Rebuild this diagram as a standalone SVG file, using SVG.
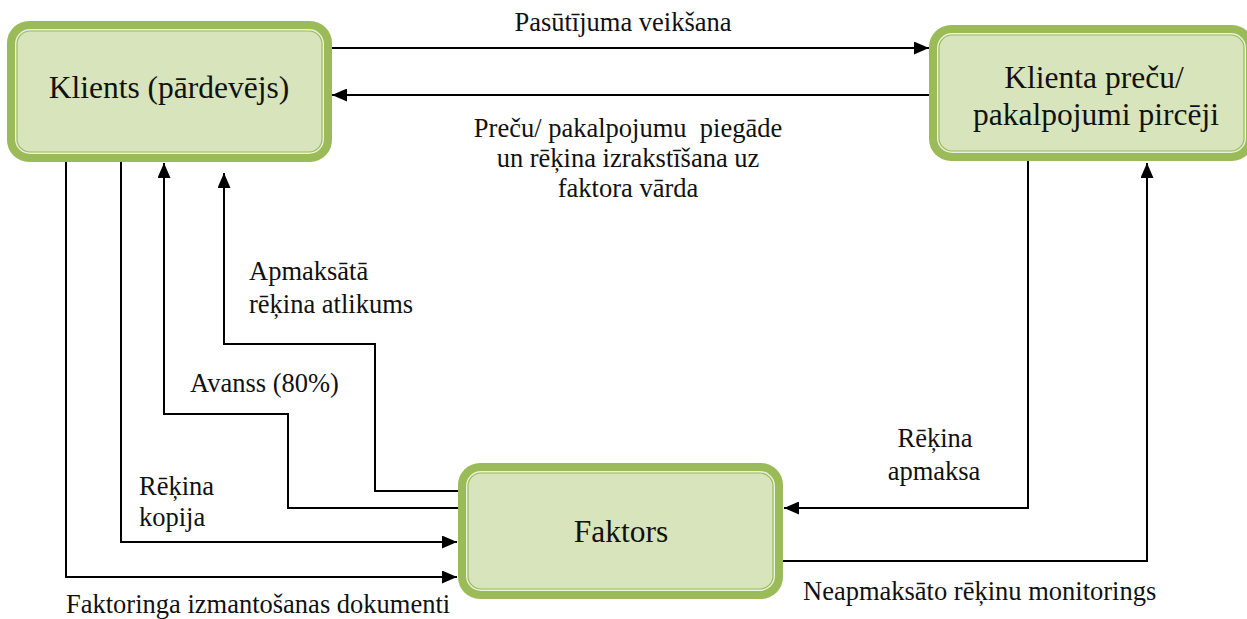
<svg xmlns="http://www.w3.org/2000/svg" width="1247" height="619" viewBox="0 0 1247 619">
  <style>
    .outer { fill: #9bbb59; }
    .gap { fill: #eaf1dd; }
    .inner { fill: #d7e4bc; stroke: #9bbb59; stroke-width: 1.2; }
    .title { font-size: 31.5px; text-anchor: middle; }
    .lbl { font-size: 26.5px; white-space: pre; }
    .mid { text-anchor: middle; }
    .wire { fill: none; stroke: #000; stroke-width: 2; marker-end: url(#arrow); }
  </style>
  <defs>
    <marker id="arrow" markerUnits="userSpaceOnUse" markerWidth="15" markerHeight="13" refX="15" refY="6.5" orient="auto">
      <path d="M0,0 L15,6.5 L0,13 z" fill="#000"/>
    </marker>
  </defs>
  <rect width="1247" height="619" fill="#fff"/>

  <!-- connectors -->
  <g id="connectors">
    <path class="wire" d="M331,48 H929"/>
    <path class="wire" d="M929,95 H332"/>
    <path class="wire" d="M66,162 V577 H457"/>
    <path class="wire" d="M121,162 V542 H457"/>
    <path class="wire" d="M458,508 H288 V414 H164 V163"/>
    <path class="wire" d="M458,491 H375 V344 H224 V173"/>
    <path class="wire" d="M1028,161 V508 H784"/>
    <path class="wire" d="M783,561 H1147 V163"/>
  </g>

  <!-- connector labels -->
  <g id="labels" font-family="Liberation Serif" fill="#111">
    <text class="lbl mid" x="623" y="31">Pasūtījuma veikšana</text>
    <text class="lbl mid" x="628" y="137" xml:space="preserve">Preču/ pakalpojumu  piegāde</text>
    <text class="lbl mid" x="628" y="167">un rēķina izrakstīšana uz</text>
    <text class="lbl mid" x="628" y="197">faktora vārda</text>
    <text class="lbl" x="249" y="280">Apmaksātā</text>
    <text class="lbl" x="249" y="313">rēķina atlikums</text>
    <text class="lbl" x="190" y="392">Avanss (80%)</text>
    <text class="lbl" x="139" y="495">Rēķina</text>
    <text class="lbl" x="139" y="526">kopija</text>
    <text class="lbl" x="66" y="613">Faktoringa izmantošanas dokumenti</text>
    <text class="lbl mid" x="935" y="447">Rēķina</text>
    <text class="lbl mid" x="934" y="480">apmaksa</text>
    <text class="lbl" x="803" y="600">Neapmaksāto rēķinu monitorings</text>
  </g>

  <!-- nodes -->
  <g id="node-klients" font-family="Liberation Serif" fill="#111">
    <rect class="outer" x="7" y="21" width="325" height="141" rx="22"/>
    <rect class="gap" x="15" y="29" width="309" height="125" rx="15"/>
    <rect class="inner" x="17" y="31" width="305" height="121" rx="13"/>
    <text class="title" x="169" y="98">Klients (pārdevējs)</text>
  </g>

  <g id="node-pirceji" font-family="Liberation Serif" fill="#111">
    <rect class="outer" x="929" y="25" width="325" height="136" rx="22"/>
    <rect class="gap" x="937" y="33" width="309" height="120" rx="15"/>
    <rect class="inner" x="939" y="35" width="305" height="116" rx="13"/>
    <text class="title" x="1094" y="88">Klienta preču/</text>
    <text class="title" x="1096" y="125">pakalpojumi pircēji</text>
  </g>

  <g id="node-faktors" font-family="Liberation Serif" fill="#111">
    <rect class="outer" x="458" y="463" width="325" height="136" rx="22"/>
    <rect class="gap" x="466" y="471" width="309" height="120" rx="15"/>
    <rect class="inner" x="468" y="473" width="305" height="116" rx="13"/>
    <text class="title" x="621" y="542">Faktors</text>
  </g>
</svg>
